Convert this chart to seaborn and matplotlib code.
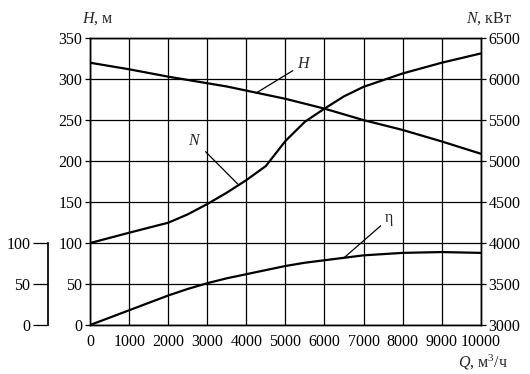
import matplotlib
matplotlib.use('Agg')
import matplotlib.pyplot as plt
import pandas as pd
import seaborn as sns

# Data
q = [0, 1000, 2000, 2500, 3000, 3500, 4000, 4500, 5000, 5500, 6000, 6500, 7000, 8000, 9000, 10000]
head = [320, 312, 303, 299, 295, 291, 286, 281, 276, 270, 264, 257, 250, 238, 224, 209]
power = [4000, 4126, 4248, 4350, 4476, 4615, 4768, 4940, 5245, 5480, 5640, 5790, 5906, 6069, 6200, 6313]
eff = [0, 18, 36, 44, 51, 57, 62, 67, 72, 76, 79, 82, 85, 88, 89, 88]

df = pd.DataFrame({'Q': q, 'H': head, 'N': power, 'eta': eff})

sns.set_theme(style='white')
plt.rcParams['font.family'] = ['Liberation Serif', 'DejaVu Serif']
plt.rcParams['mathtext.fontset'] = 'custom'
plt.rcParams['mathtext.rm'] = 'Liberation Serif'
plt.rcParams['mathtext.it'] = 'Liberation Serif:italic'

fs = 11.5

fig = plt.figure(figsize=(5.3, 3.74), dpi=100)
ax = fig.add_axes([0.170, 0.131, 0.737, 0.767])
ax2 = ax.twinx()
ax3 = ax.twinx()

# H and eta on the left scale
sns.lineplot(data=df, x='Q', y='H', ax=ax, color='black', linewidth=1.6)
sns.lineplot(data=df, x='Q', y='eta', ax=ax, color='black', linewidth=1.6)
# N on the right scale
sns.lineplot(data=df, x='Q', y='N', ax=ax2, color='black', linewidth=1.6)

ax.set_xlim(0, 10000)
ax.set_ylim(0, 350)
ax2.set_ylim(3000, 6500)
ax.set_xticks(range(0, 10001, 1000))
ax.set_yticks(range(0, 351, 50))
ax2.set_yticks(range(3000, 6501, 500))
ax.grid(True, color='black', linewidth=0.9)
ax.set_xlabel('')
ax.set_ylabel('')
ax2.set_ylabel('')

for a in (ax, ax2):
    for s in a.spines.values():
        s.set_color('black')
        s.set_linewidth(1.0)
    a.tick_params(colors='black', labelsize=fs, length=3.5, width=0.9, pad=2, direction='out')
ax.tick_params(axis='x', pad=3)

# separate efficiency axis on the far left
ax3.set_ylim(0, 350)
ax3.spines['right'].set_visible(False)
ax3.spines['top'].set_visible(False)
ax3.spines['bottom'].set_visible(False)
ax3.spines['left'].set_visible(True)
ax3.spines['left'].set_position(('outward', 30))
ax3.spines['left'].set_bounds(0, 100)
ax3.spines['left'].set_color('black')
ax3.yaxis.set_ticks_position('left')
ax3.yaxis.set_label_position('left')
ax3.set_yticks([0, 50, 100])
ax3.tick_params(axis='y', colors='black', labelsize=fs, length=11, width=0.9, pad=2)

# axis titles
fig.text(0.155, 0.950, '$H$, м', fontsize=fs, ha='left', va='center')
fig.text(0.966, 0.950, '$N$, кВт', fontsize=fs, ha='right', va='center')
fig.text(0.958, 0.030, '$Q$, м$^3$/ч', fontsize=fs, ha='right', va='center')

# curve labels with leader lines
ax.annotate('$H$', xy=(4250, 283), xytext=(5300, 319), fontsize=fs,
            ha='left', va='center',
            arrowprops=dict(arrowstyle='-', color='black', lw=0.9, shrinkA=1, shrinkB=0))
ax.annotate('$N$', xy=(3780, 172), xytext=(2500, 225), fontsize=fs,
            ha='left', va='center',
            arrowprops=dict(arrowstyle='-', color='black', lw=0.9, shrinkA=1, shrinkB=0))
ax.annotate('η', xy=(6500, 82), xytext=(7550, 130), fontsize=fs,
            ha='left', va='center',
            arrowprops=dict(arrowstyle='-', color='black', lw=0.9, shrinkA=1, shrinkB=0))

fig.savefig('out.png', dpi=100)
